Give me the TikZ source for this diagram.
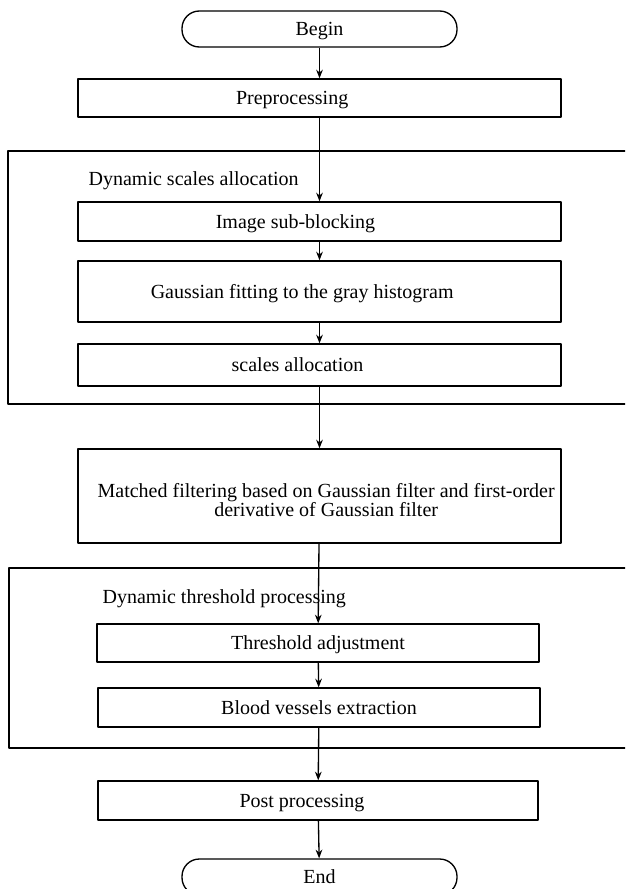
\documentclass[tikz,border=0pt]{standalone}
\usepackage{fontspec}
\setmainfont{Liberation Serif}
\usetikzlibrary{arrows.meta}
\begin{document}
\begin{tikzpicture}[>={Stealth[length=6.5pt,width=5pt]},line join=round,x=0.75pt,y=-0.75pt,line width=1pt,
	font=\fontsize{15}{14.5}\selectfont,
	blk/.style n args={2}{draw,inner sep=0pt,text height=10pt,text depth=0pt,minimum width=#1*0.75pt,minimum height=#2*0.75pt},
	term/.style n args={2}{blk={#1}{#2},rounded corners=13pt},
	lft/.style={execute at begin node={\hspace*{-#1}}},
	lbl/.style={anchor=west,inner sep=0pt,text height=10pt,text depth=0pt},
	grp/.style={draw}]
	\clip (0,0) rectangle (625,889);
	% groups
	\draw[grp] (8,151) rectangle (700,404);
	\draw[grp] (9,568) rectangle (700,748);
	\node[lbl] (dsa) at (88,179) {Dynamic scales allocation};
	\node[lbl] (dtp) at (102,597) {Dynamic threshold processing};
	% steps
	\node[term={275}{36}] (begin) at (319.5,29) {Begin};
	\node[blk={483}{38},lft=41pt] (pre) at (319.5,98) {Preprocessing};
	\node[blk={483}{39},lft=36pt] (isb) at (319.5,221.5) {Image sub-blocking};
	\node[blk={483}{61},lft=26pt] (gfh) at (319.5,291.5) {Gaussian fitting to the gray histogram};
	\node[blk={483}{42},lft=33pt] (sca) at (319.5,365) {scales allocation};
	\node[blk={483}{94},align=center,text height=31pt] (mf) at (319.5,496) {\hspace*{10pt}Matched filtering based on Gaussian filter and first-order\\\hspace*{10pt}derivative of Gaussian filter};
	\node[blk={442}{38}] (thr) at (318,643) {Threshold adjustment};
	\node[blk={442}{39}] (bve) at (319,707.5) {Blood vessels extraction};
	\node[blk={440}{39},lft=24pt] (pp) at (318,800.5) {Post processing};
	\node[term={275}{36}] (end) at (319.5,877) {End};
	\foreach \a/\b in {begin/pre,pre/isb,isb/gfh,gfh/sca,sca/mf,mf/thr,thr/bve,bve/pp,pp/end}
	\draw[->] (\a)--(\b);
\end{tikzpicture}
\end{document}
